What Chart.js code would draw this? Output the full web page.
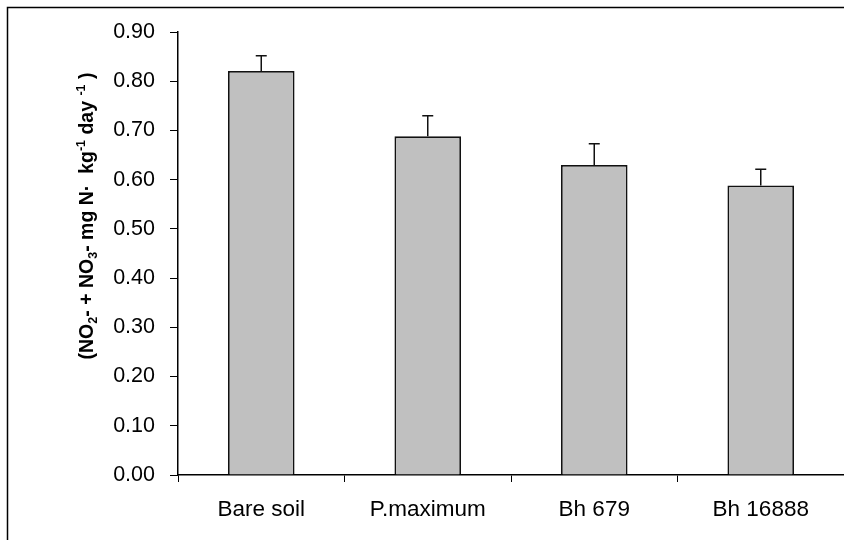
<!DOCTYPE html>
<html>
<head>
<meta charset="utf-8">
<script src="https://cdn.jsdelivr.net/npm/chart.js@4.4.0/dist/chart.umd.min.js"></script>
<style>
  html, body { margin: 0; padding: 0; background: #fff; }
  #wrap { width: 844px; height: 540px; position: relative; }
</style>
</head>
<body>
<div id="wrap"><canvas id="chart"></canvas></div>
<script>
// data
const categories = ['Bare soil', 'P.maximum', 'Bh 679', 'Bh 16888'];
const rates = [0.821, 0.688, 0.630, 0.588];
const errors = [0.031, 0.042, 0.043, 0.033];

// y label pieces: [text, 'n' normal | 'sub' | 'sup']
const yLabelParts = [
  ['(NO', 'n'], ['2', 'sub'], ['- + NO', 'n'], ['3', 'sub'],
  ['- mg N\u00B7  kg', 'n'], ['-1', 'sup'], [' day ', 'n'], ['-1', 'sup'], [' )', 'n']
];

const FONT = "'Liberation Sans', Arial, Helvetica, sans-serif";

// frame on left and top edges
const framePlugin = {
  id: 'frame',
  beforeDraw(chart) {
    const ctx = chart.ctx;
    ctx.save();
    ctx.strokeStyle = '#000';
    ctx.lineWidth = 1.5;
    ctx.beginPath();
    ctx.moveTo(7.5, chart.height);
    ctx.lineTo(7.5, 7.5);
    ctx.lineTo(chart.width, 7.5);
    ctx.stroke();
    ctx.restore();
  }
};

// error bars (upper only), drawn from the data through the scales
const errorBarPlugin = {
  id: 'errorBars',
  afterDatasetsDraw(chart) {
    const ctx = chart.ctx;
    const y = chart.scales.y;
    const meta = chart.getDatasetMeta(0);
    ctx.save();
    ctx.strokeStyle = '#111';
    ctx.lineWidth = 1.5;
    meta.data.forEach((bar, i) => {
      const top = y.getPixelForValue(rates[i] + errors[i]);
      const base = y.getPixelForValue(rates[i]);
      ctx.beginPath();
      ctx.moveTo(bar.x, base);
      ctx.lineTo(bar.x, top);
      ctx.moveTo(bar.x - 5.5, top);
      ctx.lineTo(bar.x + 5.5, top);
      ctx.stroke();
    });
    ctx.restore();
  }
};

// rotated y axis label with sub/superscripts
const yLabelPlugin = {
  id: 'yLabel',
  afterDraw(chart) {
    const ctx = chart.ctx;
    const size = 19.5;
    const small = 12.5;
    const fontFor = kind => 'bold ' + (kind === 'n' ? size : small) + 'px ' + FONT;
    let total = 0;
    yLabelParts.forEach(([t, k]) => { ctx.font = fontFor(k); total += ctx.measureText(t).width; });
    ctx.save();
    ctx.translate(93, 216);
    ctx.rotate(-Math.PI / 2);
    ctx.fillStyle = '#000';
    ctx.textBaseline = 'alphabetic';
    let x = -total / 2;
    yLabelParts.forEach(([t, k]) => {
      ctx.font = fontFor(k);
      const dy = k === 'sub' ? 4 : (k === 'sup' ? -8 : 0);
      ctx.fillText(t, x, dy);
      x += ctx.measureText(t).width;
    });
    ctx.restore();
  }
};

new Chart(document.getElementById('chart'), {
  type: 'bar',
  data: {
    labels: categories,
    datasets: [{
      data: rates,
      backgroundColor: '#C0C0C0',
      borderColor: '#111',
      borderWidth: 1.8,
      barPercentage: 0.4,
      categoryPercentage: 1.0,
    }]
  },
  options: {
    responsive: true,
    maintainAspectRatio: false,
    animation: false,
    layout: { padding: { top: 32, right: 0, bottom: 0, left: 0 } },
    plugins: {
      legend: { display: false },
      tooltip: { enabled: false },
    },
    scales: {
      y: {
        min: 0,
        max: 0.9,
        ticks: {
          stepSize: 0.1,
          color: '#000',
          font: { family: FONT, size: 21.5 },
          padding: 15,
          callback: v => v.toFixed(2),
        },
        grid: {
          drawOnChartArea: false,
          drawTicks: true,
          tickLength: 8,
          tickColor: '#000',
          tickWidth: 1,
        },
        border: { color: '#000', width: 1.5 },
        afterFit(axis) { axis.width = 178; },
      },
      x: {
        offset: true,
        ticks: {
          color: '#000',
          font: { family: FONT, size: 22.5 },
          padding: 14,
        },
        grid: {
          offset: true,
          drawOnChartArea: false,
          drawTicks: true,
          tickLength: 7,
          tickColor: '#000',
          tickWidth: 1,
        },
        border: { color: '#000', width: 1.5 },
        afterFit(axis) { axis.height = 65; },
      }
    }
  },
  plugins: [framePlugin, errorBarPlugin, yLabelPlugin]
});
</script>
</body>
</html>
